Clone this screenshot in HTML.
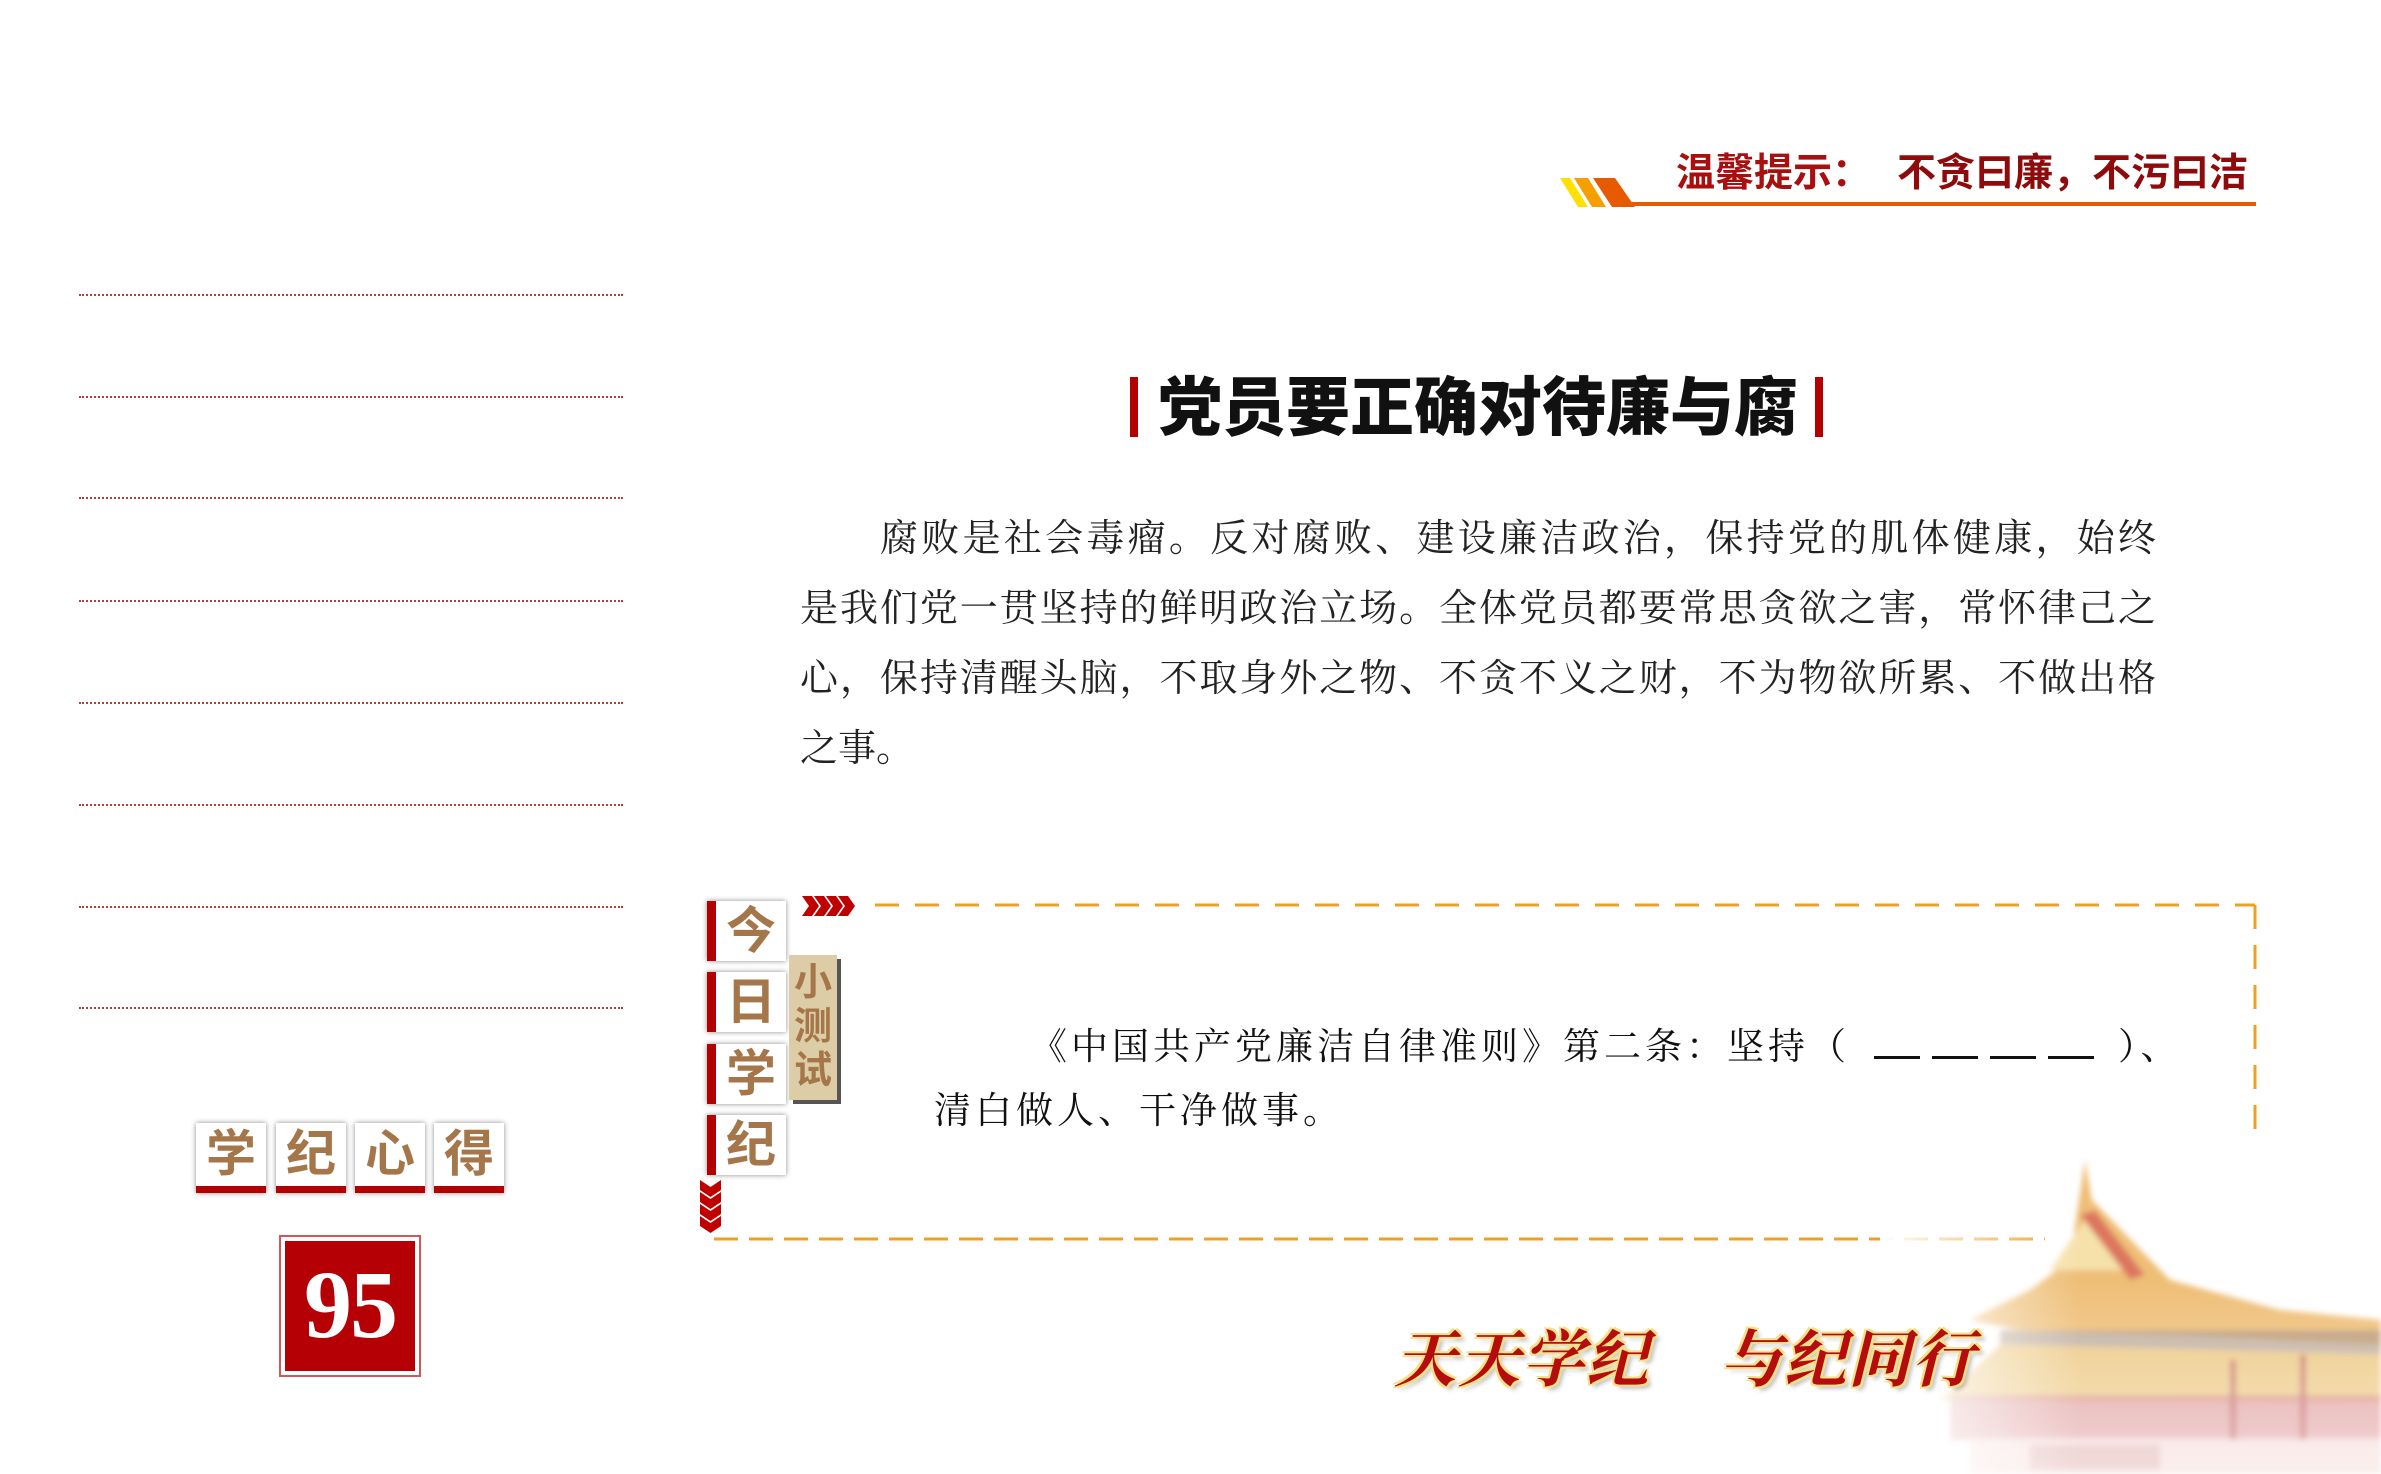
<!DOCTYPE html>
<html><head><meta charset="utf-8"><style>
*{margin:0;padding:0;box-sizing:border-box}
body{width:2381px;height:1474px;background:#fff;position:relative;overflow:hidden;font-family:"Liberation Sans","Noto Sans CJK SC",sans-serif}
.a{position:absolute}
.dot{position:absolute;left:79px;width:544px;border-top:2px dotted #a8423a}
.serif{font-family:"Liberation Serif","Noto Serif CJK SC",serif}
.bl{position:absolute;left:800px;width:1356px;font-size:38px;color:#222;text-align:justify;text-align-last:justify;line-height:44px;white-space:nowrap}
.jb{position:absolute;left:707px;width:79px;height:60px;background:#fff;box-shadow:0 0 5px rgba(0,0,0,.45);border-left:9px solid #b30000;color:#a4764a;font-weight:bold;font-size:50px;text-align:center;line-height:60px}
.xb{position:absolute;top:1123px;width:70px;height:70px;background:#fff;box-shadow:0 0 5px rgba(0,0,0,.45);border-bottom:7px solid #b30000;color:#a4764a;font-weight:bold;font-size:50px;text-align:center;line-height:62px}
.slog{position:absolute;top:1310px;font-size:62px;font-weight:bold;font-style:italic;color:#b50d0d;font-family:"Liberation Serif","Noto Serif CJK SC",serif;text-shadow:2px 2px 0 #f6e08a,-2px -2px 0 #f6e08a,2px -2px 0 #f6e08a,-2px 2px 0 #f6e08a,4px 4px 4px rgba(0,0,0,.25);letter-spacing:2px}
.blank{display:inline-block;width:230px;height:30px;vertical-align:baseline;margin:0 14px 0 24px;background:linear-gradient(90deg,#111 0,#111 46px,transparent 46px,transparent 58px) 0 100%/58px 3px repeat-x}
</style></head><body>

<!-- header -->
<svg class="a" style="left:1560px;top:175px" width="700" height="36">
<polygon points="0,3 10,3 28,32 18,32" fill="#ffe000"/>
<polygon points="14,3 28,3 46,32 32,32" fill="#f5a000"/>
<polygon points="33,3 55,3 75,32 52,32" fill="#e85a00"/>
<rect x="70" y="27" width="626" height="4" fill="#e85a00"/>
</svg>
<div class="a" style="left:1676px;top:142px;font-size:39px;font-weight:bold;color:#a80f0f;white-space:nowrap">温馨提示：<span style="margin-left:26px;color:#8f0a0a">不贪曰廉，不污曰洁</span></div>

<!-- dotted lines -->
<div class="dot" style="top:294px"></div><div class="dot" style="top:396px"></div>
<div class="dot" style="top:497px"></div><div class="dot" style="top:600px"></div>
<div class="dot" style="top:702px"></div><div class="dot" style="top:804px"></div>
<div class="dot" style="top:906px"></div><div class="dot" style="top:1007px"></div>

<!-- title -->
<div class="a" style="left:1130px;top:377px;width:8px;height:60px;background:#b30000"></div>
<div class="a" style="left:1815px;top:377px;width:8px;height:60px;background:#b30000"></div>
<div class="a" style="left:1158px;top:368px;width:650px;font-size:64px;font-weight:900;color:#111;white-space:nowrap;line-height:80px">党员要正确对待廉与腐</div>

<!-- body -->
<div class="bl serif" style="top:517px;left:880px;width:1276px">腐败是社会毒瘤。反对腐败、建设廉洁政治，保持党的肌体健康，始终</div>
<div class="bl serif" style="top:587px">是我们党一贯坚持的鲜明政治立场。全体党员都要常思贪欲之害，常怀律己之</div>
<div class="bl serif" style="top:657px">心，保持清醒头脑，不取身外之物、不贪不义之财，不为物欲所累、不做出格</div>
<div class="bl serif" style="top:727px;width:auto;text-align:left;text-align-last:auto">之事。</div>

<!-- quiz dashed box -->
<svg class="a" style="left:700px;top:890px" width="1570" height="360">
<line x1="175" y1="15" x2="1555" y2="15" stroke="#f0a020" stroke-width="3" stroke-dasharray="24,16"/>
<line x1="1555" y1="15" x2="1555" y2="245" stroke="#f0a020" stroke-width="3" stroke-dasharray="24,16"/>
<line x1="14" y1="349" x2="1345" y2="349" stroke="#f0a020" stroke-width="3" stroke-dasharray="24,11"/>
<g fill="#c00000">
<polygon points="102,6 112,6 119,16 112,26 102,26 109,16"/>
<polygon points="114,6 124,6 131,16 124,26 114,26 121,16"/>
<polygon points="126,6 136,6 143,16 136,26 126,26 133,16"/>
<polygon points="138,6 148,6 155,16 148,26 138,26 145,16"/>
<polygon points="0,290 10.5,297 21,290 21,300 10.5,307 0,300"/>
<polygon points="0,302 10.5,309 21,302 21,312 10.5,319 0,312"/>
<polygon points="0,314 10.5,321 21,314 21,324 10.5,331 0,324"/>
<polygon points="0,326 10.5,333 21,326 21,336 10.5,343 0,336"/>
</g>
</svg>
<div class="jb" style="top:901px">今</div>
<div class="jb" style="top:972px">日</div>
<div class="jb" style="top:1044px">学</div>
<div class="jb" style="top:1115px">纪</div>
<div class="a" style="left:789px;top:955px;width:48px;height:145px;background:#dccda6;box-shadow:4px 4px 0 #555;color:#a4764a;font-weight:bold;font-size:38px;line-height:44px;text-align:center;padding-top:6px">小<br>测<br>试</div>

<div class="a serif" style="left:1030px;top:1016px;font-size:37px;color:#111;letter-spacing:4px;white-space:nowrap">《中国共产党廉洁自律准则》第二条：坚持（<span class="blank"></span>）、</div>
<div class="a serif" style="left:934px;top:1080px;font-size:37px;color:#111;letter-spacing:4px;white-space:nowrap">清白做人、干净做事。</div>

<!-- 学纪心得 -->
<div class="xb" style="left:196px">学</div>
<div class="xb" style="left:276px">纪</div>
<div class="xb" style="left:355px">心</div>
<div class="xb" style="left:434px">得</div>
<div class="a" style="left:279px;top:1235px;width:142px;height:142px;border:2px solid #d05858;padding:4px">
<div style="width:100%;height:100%;background:#b50005;color:#fff;font-family:'Liberation Serif',serif;font-weight:bold;font-size:96px;text-align:center;line-height:128px;letter-spacing:-2px">95</div></div>

<!-- building -->
<svg class="a" style="left:1880px;top:1140px" width="501" height="334">
<defs><linearGradient id="fd" x1="0" y1="0" x2="0" y2="1"><stop offset="0" stop-color="#fff" stop-opacity="0"/><stop offset="1" stop-color="#fff" stop-opacity=".95"/></linearGradient>
<linearGradient id="fl" x1="0" y1="0" x2="1" y2="0"><stop offset="0" stop-color="#fff" stop-opacity="1"/><stop offset=".4" stop-color="#fff" stop-opacity="0"/></linearGradient>
<filter id="bl"><feGaussianBlur stdDeviation="3"/></filter></defs>
<g filter="url(#bl)" opacity=".75">
<polygon points="205,20 212,60 290,140 400,170 501,180 501,205 300,195 140,190 90,180 150,150 190,120" fill="#e9a94a"/>
<polygon points="212,70 260,130 170,130" fill="#f3d88e"/>
<polygon points="200,75 215,70 265,135 250,140" fill="#d24a2a"/>
<rect x="120" y="190" width="381" height="25" fill="#8a6a48" opacity=".7"/>
<polygon points="60,260 120,205 501,215 501,262" fill="#e7b658"/>
<rect x="70" y="255" width="431" height="45" fill="#c64848" opacity=".7"/>
<rect x="90" y="298" width="411" height="36" fill="#eab6b0" opacity=".7"/>
<rect x="150" y="305" width="130" height="25" fill="#d59590"/>
<rect x="350" y="220" width="6" height="80" fill="#b03030"/>
<rect x="420" y="215" width="6" height="85" fill="#b03030"/>
</g>
<rect x="0" y="0" width="501" height="334" fill="url(#fl)"/>
<rect x="0" y="140" width="501" height="194" fill="url(#fd)" opacity=".6"/>
</svg>

<!-- slogan -->
<div class="slog" style="left:1394px">天天学纪</div>
<div class="slog" style="left:1720px">与纪同行</div>

</body></html>
